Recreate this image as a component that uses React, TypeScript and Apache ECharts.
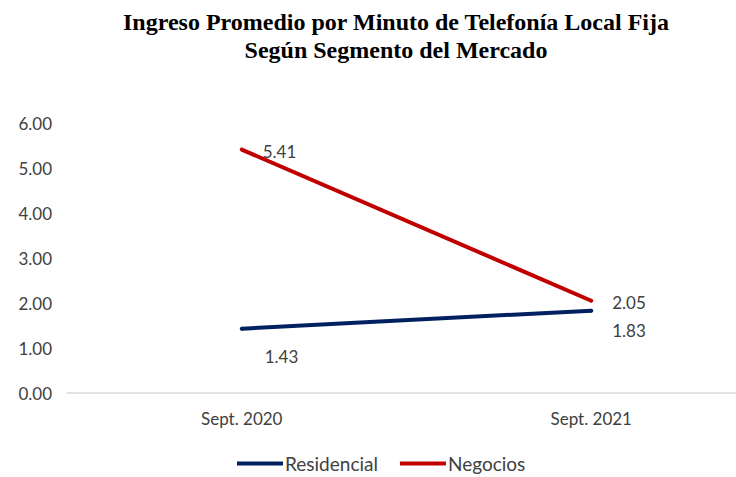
import React, { useEffect, useRef } from "react";
import * as echarts from "echarts";

const titleLines = [
  "Ingreso Promedio por Minuto de Telefonía Local Fija",
  "Según Segmento del Mercado",
];
const categories = ["Sept. 2020", "Sept. 2021"];
const residencial = [1.43, 1.83];
const negocios = [5.41, 2.05];
const seriesNames = ["Residencial", "Negocios"];

const FONT = "Lato, 'Open Sans', sans-serif";
const TXT = "#404040";

export default function App() {
  const ref = useRef<HTMLDivElement>(null);
  useEffect(() => {
    if (!ref.current) return;
    const chart = echarts.init(ref.current, null, { renderer: "svg" });
    const resLabelOffsets = [
      [2, 28],
      [0, 20],
    ];
    const negLabelOffsets = [
      [0, 1.5],
      [0, 2],
    ];
    const labelBase = {
      show: true,
      position: "right",
      distance: 19,
      fontFamily: FONT,
      fontSize: 17,
      color: TXT,
      formatter: (p: any) => Number(p.value).toFixed(2),
    };
    chart.setOption({
      animation: false,
      backgroundColor: "#ffffff",
      title: {
        text: titleLines.join("\n"),
        left: 391,
        top: 3,
        textAlign: "center",
        textStyle: {
          fontFamily: "'Liberation Serif', 'Times New Roman', serif",
          fontWeight: "bold",
          fontSize: 24,
          lineHeight: 28,
          color: "#000000",
        },
      },
      legend: {
        top: 449,
        left: 232,
        icon: "rect",
        itemWidth: 46,
        itemHeight: 4,
        itemGap: 22,
        textStyle: { fontFamily: FONT, fontSize: 19, color: TXT, padding: [0, 0, 0, -3] },
        data: seriesNames,
      },
      grid: { left: 67, right: 4, top: 123, bottom: 84 },
      xAxis: {
        type: "category",
        data: categories,
        boundaryGap: true,
        axisLine: { lineStyle: { color: "#d9d9d9", width: 1.5 } },
        axisTick: { show: false },
        axisLabel: { fontFamily: FONT, fontSize: 17, color: TXT, margin: 17 },
      },
      yAxis: {
        type: "value",
        min: 0,
        max: 6,
        interval: 1,
        splitLine: { show: false },
        axisLine: { show: false },
        axisTick: { show: false },
        axisLabel: {
          fontFamily: FONT,
          fontSize: 17,
          color: TXT,
          margin: 15,
          formatter: (v: number) => v.toFixed(2),
        },
      },
      series: [
        {
          name: seriesNames[0],
          type: "line",
          data: residencial.map((v, i) => ({
            value: v,
            label: { offset: resLabelOffsets[i] },
          })),
          symbol: "circle",
          symbolSize: 4,
          lineStyle: { color: "#002060", width: 4 },
          itemStyle: { color: "#002060" },
          label: labelBase,
        },
        {
          name: seriesNames[1],
          type: "line",
          data: negocios.map((v, i) => ({
            value: v,
            label: { offset: negLabelOffsets[i] },
          })),
          symbol: "circle",
          symbolSize: 4,
          lineStyle: { color: "#c00000", width: 4 },
          itemStyle: { color: "#c00000" },
          label: labelBase,
        },
      ],
    });
    return () => chart.dispose();
  }, []);
  return (
    <div style={{ width: 736, height: 477, position: "absolute", left: 0, top: 0, overflow: "hidden" }}>
      <div ref={ref} style={{ width: 770, height: 477 }} />
    </div>
  );
}
